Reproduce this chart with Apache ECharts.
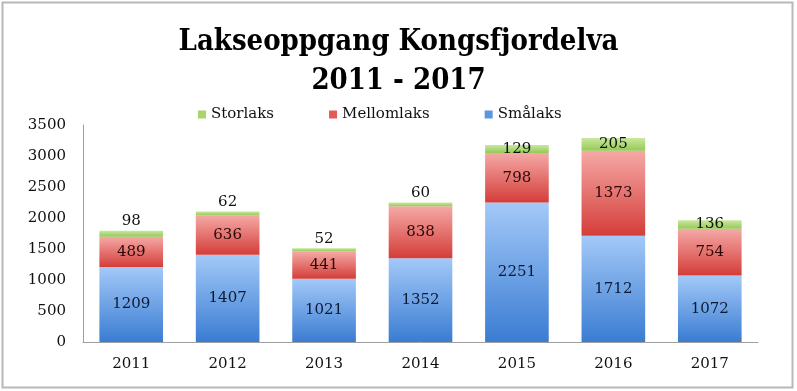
<!DOCTYPE html>
<html>
<head>
<meta charset="utf-8">
<script src="https://cdn.jsdelivr.net/npm/echarts@6/dist/echarts.min.js"></script>
<style>
html,body{margin:0;padding:0;background:#fff;}
#c{width:797px;height:391px;}
</style>
</head>
<body>
<div id="c"></div>
<script>
const years = ['2011','2012','2013','2014','2015','2016','2017'];
const smalaks = [1209, 1407, 1021, 1352, 2251, 1712, 1072];
const mellomlaks = [489, 636, 441, 838, 798, 1373, 754];
const storlaks = [98, 62, 52, 60, 129, 205, 136];
const yTicks = [0, 500, 1000, 1500, 2000, 2500, 3000, 3500];

const FONT = '"DejaVu Serif", "Liberation Serif", serif';
const TFONT = '"DejaVu Serif Condensed", "DejaVu Serif", serif';
const grad = (top, bottom) => new echarts.graphic.LinearGradient(0, 0, 0, 1, [
  {offset: 0, color: top}, {offset: 1, color: bottom}
]);

const chart = echarts.init(document.getElementById('c'), null, {renderer: 'canvas'});
const labelBase = {show: true, fontFamily: FONT, fontSize: 15, color: '#111'};

chart.setOption({
  animation: false,
  title: {
    text: 'Lakseoppgang Kongsfjordelva\n2011 - 2017',
    left: 'center', top: 18,
    textStyle: {fontFamily: TFONT, fontWeight: 'bold', fontSize: 29, lineHeight: 39, color: '#000'}
  },
  legend: {
    top: 102, left: 193,
    itemWidth: 8, itemHeight: 8, itemGap: 55,
    icon: 'rect',
    textStyle: {fontFamily: FONT, fontSize: 15, color: '#111'},
    data: [
      {name: 'Storlaks', itemStyle: {color: '#a8d46c'}},
      {name: 'Mellomlaks', itemStyle: {color: '#e25b57'}},
      {name: 'Smålaks', itemStyle: {color: '#5a95e0'}}
    ]
  },
  grid: {left: 83, right: 39, top: 125, bottom: 49, containLabel: false},
  xAxis: {
    type: 'category', data: years,
    axisLine: {lineStyle: {color: '#a0a0a0', width: 1}},
    axisTick: {show: false},
    axisLabel: {fontFamily: FONT, fontSize: 15, color: '#111', margin: 15}
  },
  yAxis: {
    type: 'value', min: 0, max: 3500, interval: 500,
    axisLine: {show: true, lineStyle: {color: '#a0a0a0', width: 1}},
    axisTick: {show: false},
    splitLine: {show: false},
    axisLabel: {fontFamily: FONT, fontSize: 15, color: '#111', margin: 17,
      formatter: v => yTicks.includes(v) ? String(v) : ''}
  },
  series: [
    {
      name: 'Smålaks', type: 'bar', stack: 'a', barWidth: '66%', data: smalaks,
      itemStyle: {color: grad('#a3c9f8', '#3a7cd2')},
      label: Object.assign({}, labelBase, {position: 'inside', color: '#0b1a33'})
    },
    {
      name: 'Mellomlaks', type: 'bar', stack: 'a', data: mellomlaks,
      itemStyle: {color: grad('#f5a9a6', '#d43d39')},
      label: Object.assign({}, labelBase, {position: 'inside', color: '#2a0808'})
    },
    {
      name: 'Storlaks', type: 'bar', stack: 'a',
      data: storlaks.map(v => v < 100
        ? {value: v, label: {position: 'top', distance: 2}}
        : {value: v}),
      itemStyle: {color: grad('#c9e89e', '#96c957')},
      label: Object.assign({}, labelBase, {position: 'inside', color: '#111'})
    }
  ],
  graphic: [{
    type: 'rect', shape: {x: 2.5, y: 2.5, width: 790, height: 385},
    style: {fill: 'none', stroke: '#b8b8b8', lineWidth: 2}, silent: true
  }]
});
</script>
</body>
</html>
